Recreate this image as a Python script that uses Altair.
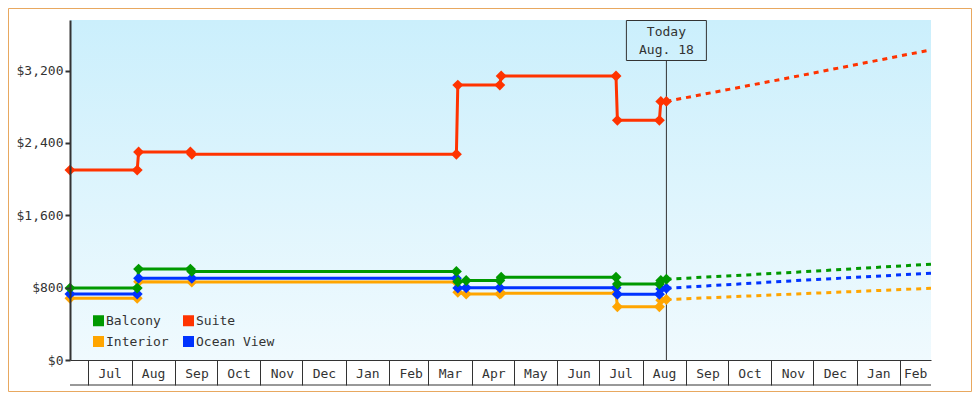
import altair as alt
import pandas as pd

FONT = "DejaVu Sans Mono"
TEXT = "#333333"

series_names = ["Balcony", "Suite", "Interior", "Ocean View"]
series_colors = ["#009900", "#FF3300", "#FFA500", "#0033FF"]

balcony_dates = ["2022-06-18", "2022-08-05", "2022-08-06", "2022-09-12", "2022-09-13",
                 "2023-03-21", "2023-03-22", "2023-03-28", "2023-04-21", "2023-04-22",
                 "2023-07-13", "2023-07-14", "2023-08-13", "2023-08-14", "2023-08-18"]
balcony_values = [795, 795, 1005, 1005, 980, 980, 866, 880, 880, 915, 915, 841, 841, 880, 893]

suite_dates = ["2022-06-18", "2022-08-05", "2022-08-06", "2022-09-12", "2022-09-13",
               "2023-03-21", "2023-03-22", "2023-04-21", "2023-04-22",
               "2023-07-13", "2023-07-14", "2023-08-13", "2023-08-14", "2023-08-18"]
suite_values = [2100, 2100, 2300, 2300, 2275, 2275, 3040, 3040, 3140, 3140, 2650, 2650, 2860, 2860]

interior_dates = ["2022-06-18", "2022-08-05", "2022-08-06", "2022-09-13",
                  "2023-03-21", "2023-03-22", "2023-03-28", "2023-04-21", "2023-04-22",
                  "2023-07-13", "2023-07-14", "2023-08-13", "2023-08-14", "2023-08-18"]
interior_values = [682, 682, 866, 862, 862, 750, 730, 730, 738, 738, 590, 590, 660, 668]

ocean_dates = ["2022-06-18", "2022-08-05", "2022-08-06", "2022-09-13",
               "2023-03-21", "2023-03-22", "2023-03-28", "2023-04-21",
               "2023-07-13", "2023-07-14", "2023-08-13", "2023-08-14", "2023-08-18"]
ocean_values = [730, 730, 905, 905, 905, 795, 798, 800, 800, 728, 728, 785, 793]

forecast_dates = ["2023-08-18", "2023-11-15", "2024-02-23"]
balcony_forecast = [893, 968, 1060]
suite_forecast = [2860, 3125, 3430]
interior_forecast = [668, 728, 793]
ocean_forecast = [793, 875, 960]

today_date = "2023-08-18"
today_lines = ["Today", "Aug. 18"]

y_ticks = [0, 800, 1600, 2400, 3200]

hist = {"Balcony": (balcony_dates, balcony_values), "Suite": (suite_dates, suite_values),
        "Interior": (interior_dates, interior_values), "Ocean View": (ocean_dates, ocean_values)}
fc = {"Balcony": balcony_forecast, "Suite": suite_forecast,
      "Interior": interior_forecast, "Ocean View": ocean_forecast}

draw_order = ["Interior", "Ocean View", "Balcony", "Suite"]
hist_rows, fc_rows = [], []
for s in draw_order:
    d, v = hist[s]
    hist_rows += [{"date": a, "price": b, "series": s} for a, b in zip(d, v)]
    fc_rows += [{"date": a, "price": b, "series": s} for a, b in zip(forecast_dates, fc[s])]
hist_df = pd.DataFrame(hist_rows)
fc_df = pd.DataFrame(fc_rows)
today_df = pd.DataFrame({"date": [today_date], "l1": [today_lines[0]], "l2": [today_lines[1]]})
one = pd.DataFrame({"k": [0]})

W, H = 861, 340

x_scale = alt.Scale(type="utc", nice=False,
                    domain=[alt.DateTime(year=2022, month=6, date=18, utc=True),
                            alt.DateTime(year=2024, month=2, date=23, utc=True)])
y_scale = alt.Scale(domain=[0, 3760], nice=False)
color_scale = alt.Scale(domain=series_names, range=series_colors)

x_axis = alt.Axis(title=None, format="%b", tickCount={"interval": "month", "step": 1},
                  tickSize=25, tickWidth=1, tickColor=TEXT, domainColor=TEXT, domainWidth=1,
                  labelOffset={"condition": {"test": "datum.value >= utc(2024,1,1)", "value": 15},
                               "value": 21.5},
                  labelPadding=-12, labelBaseline="middle", labelAlign="center",
                  labelFlush=False, labelOverlap=False, labelFont=FONT, labelFontSize=13,
                  labelColor=TEXT, grid=False, zindex=1)
y_axis = alt.Axis(title=None, values=y_ticks, format="$,.0f", tickSize=5, tickWidth=2,
                  tickColor=TEXT, domainColor=TEXT, domainWidth=2, labelPadding=2,
                  labelFont=FONT, labelFontSize=13, labelColor=TEXT, grid=False, zindex=1)

X = alt.X("date:T", scale=x_scale, axis=x_axis)
Y = alt.Y("price:Q", scale=y_scale, axis=y_axis)

legend = alt.Legend(title=None, orient="none", legendX=22, legendY=294, columns=2,
                    direction="horizontal",
                    symbolType="square", symbolSize=121, symbolStrokeWidth=0, symbolOpacity=1,
                    symbolFillColor="#999999",
                    labelFont=FONT, labelFontSize=13, labelColor=TEXT, labelOffset=1,
                    columnPadding=13, rowPadding=7, padding=0, zindex=2)
C = alt.Color("series:N", scale=color_scale, legend=legend)

gradient = alt.LinearGradient(gradient="linear", x1=0, x2=0, y1=0, y2=1,
                              stops=[alt.GradientStop(color="#CBEFFC", offset=0),
                                     alt.GradientStop(color="#F0FAFE", offset=1)])

bg = alt.Chart(one).mark_rect(color=gradient).encode(
    x=alt.value(0), x2=alt.value(W), y=alt.value(0), y2=alt.value(H))

border = alt.Chart(one).mark_rect(fillOpacity=0, stroke="#E8A860", strokeWidth=1).encode(
    x=alt.value(-61.5), x2=alt.value(W + 40.5), y=alt.value(-11.5), y2=alt.value(H + 31.5))

band_line = alt.Chart(one).mark_rule(color=TEXT, strokeWidth=1).encode(
    x=alt.value(0), x2=alt.value(W), y=alt.value(H + 25))

today_rule = alt.Chart(today_df).mark_rule(color=TEXT, strokeWidth=1).encode(
    x=X, y=alt.value(40.5), y2=alt.value(H))

today_box = alt.Chart(today_df).mark_rect(fillOpacity=0, stroke=TEXT, strokeWidth=1,
                                          xOffset=-40, x2Offset=40).encode(
    x=X, x2="date:T", y=alt.value(0.5), y2=alt.value(40.5))

today_t1 = alt.Chart(today_df).mark_text(font=FONT, fontSize=13, color=TEXT, baseline="middle").encode(
    x=X, y=alt.value(12), text="l1:N")
today_t2 = alt.Chart(today_df).mark_text(font=FONT, fontSize=13, color=TEXT, baseline="middle").encode(
    x=X, y=alt.value(30), text="l2:N")

lines = alt.Chart(hist_df).mark_line(strokeWidth=3).encode(x=X, y=Y, color=C)

forecast = alt.Chart(fc_df).mark_line(strokeWidth=3, strokeDash=[5, 5]).encode(x=X, y=Y, color=C)

points = alt.Chart(hist_df).mark_point(shape="diamond", filled=True, size=120, opacity=1).encode(
    x=X, y=Y, color=C)

chart = alt.layer(bg, border, today_rule, lines, forecast, points, today_box, today_t1, today_t2,
                  band_line).properties(
    width=W, height=H,
    autosize=alt.AutoSizeParams(type="none"),
    padding={"left": 62, "top": 12, "right": 41, "bottom": 32},
).configure(background="white", font=FONT).configure_view(strokeWidth=0)

chart.save("out.html", embed_options={"renderer": "svg", "actions": False})
